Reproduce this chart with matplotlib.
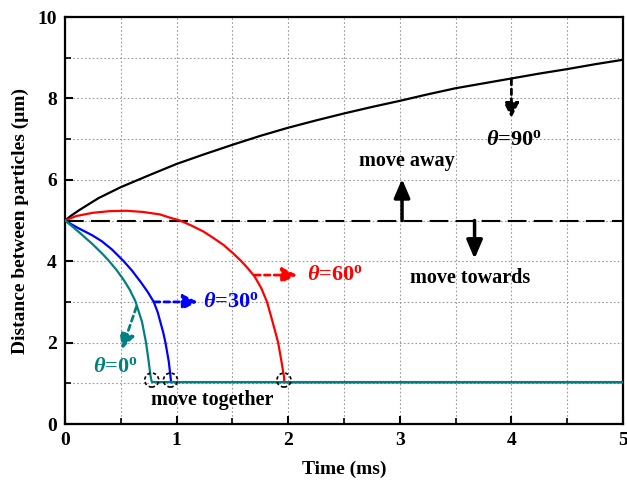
import matplotlib
matplotlib.use("Agg")
import matplotlib.pyplot as plt
from matplotlib.patches import Ellipse
from matplotlib.ticker import MultipleLocator

plt.rcParams['font.family'] = ['Liberation Serif', 'DejaVu Serif']
plt.rcParams['font.weight'] = 'bold'
plt.rcParams['mathtext.fontset'] = 'custom'
plt.rcParams['mathtext.it'] = 'Liberation Serif:italic:bold'
plt.rcParams['mathtext.rm'] = 'Liberation Serif:bold'
plt.rcParams['mathtext.bf'] = 'Liberation Serif:bold'

# ---- data ----
t90 = [0, 0.05, 0.13, 0.3, 0.5, 0.76, 1.0, 1.25, 1.5, 1.75, 2.0, 2.25, 2.5, 2.75,
       3.0, 3.25, 3.5, 3.75, 4.0, 4.25, 4.5, 4.75, 5.0]
d90 = [5, 5.11, 5.26, 5.55, 5.82, 6.12, 6.39, 6.63, 6.86, 7.08, 7.28, 7.46, 7.63, 7.79,
       7.94, 8.10, 8.25, 8.37, 8.49, 8.61, 8.72, 8.84, 8.95]

t60 = [0, 0.1, 0.25, 0.4, 0.55, 0.7, 0.85, 0.94, 1.03, 1.13, 1.24, 1.33, 1.42, 1.50,
       1.58, 1.64, 1.70, 1.76, 1.81, 1.86, 1.91, 1.94, 1.962, 1.966, 5.0]
d60 = [5, 5.11, 5.19, 5.23, 5.24, 5.21, 5.15, 5.07, 5.0, 4.88, 4.73, 4.57, 4.40, 4.21,
       4.0, 3.82, 3.62, 3.33, 3.0, 2.51, 2.0, 1.53, 1.16, 1.03, 1.03]

t30 = [0, 0.1, 0.242, 0.33, 0.42, 0.526, 0.60, 0.675, 0.74, 0.795, 0.83, 0.854, 0.88,
       0.90, 0.93, 0.947, 0.95, 5.0]
d30 = [5, 4.84, 4.64, 4.49, 4.29, 4.0, 3.77, 3.5, 3.25, 3.0, 2.75, 2.51, 2.25,
       2.0, 1.53, 1.12, 1.03, 1.03]

t0 = [0, 0.08, 0.152, 0.25, 0.332, 0.39, 0.46, 0.526, 0.58, 0.63, 0.69, 0.726, 0.75,
      0.765, 0.775, 0.78, 5.0]
d0 = [5, 4.82, 4.65, 4.41, 4.19, 4.02, 3.79, 3.54, 3.30, 3.02, 2.51, 2.0, 1.53,
      1.20, 1.06, 1.03, 1.03]

ref_t = [0, 5]
ref_d = [5, 5]

contact_t = [0.777, 0.945, 1.962]
contact_d = [1.08, 1.08, 1.08]

xticks = [0, 1, 2, 3, 4, 5]
yticks = [0, 2, 4, 6, 8, 10]

c90, c60, c30, c0 = 'black', '#ff0000', '#0000ff', '#008080'

fig = plt.figure(figsize=(6.27, 4.82), dpi=100)
ax = fig.add_axes([0.1037, 0.1203, 0.8899, 0.8444])

ax.plot(ref_t, ref_d, color='black', lw=1.5, ls=(0, (9, 3.5)), zorder=3)
ax.plot(t90, d90, color=c90, lw=1.6, zorder=4)
ax.plot(t60, d60, color=c60, lw=1.6, zorder=4)
ax.plot(t30, d30, color=c30, lw=1.6, zorder=4)
ax.plot(t0, d0, color=c0, lw=1.6, zorder=5)

for ct, cd in zip(contact_t, contact_d):
    e = Ellipse((ct, cd), width=14 / 111.6, height=14 / 40.7,
                fill=False, edgecolor='black', lw=1.2, ls=(0, (2, 1.5)), zorder=6)
    ax.add_patch(e)

ax.set_xlim(0, 5)
ax.set_ylim(0, 10)
ax.set_xticks(xticks)
ax.set_yticks(yticks)
ax.xaxis.set_minor_locator(MultipleLocator(0.5))
ax.yaxis.set_minor_locator(MultipleLocator(1))
ax.grid(True, which='both', color='#9a9a9a', ls=(0, (1.5, 2)), lw=0.8, zorder=0)
ax.set_axisbelow(True)
ax.tick_params(which='major', direction='in', length=6, width=1.5, labelsize=14, pad=6)
ax.tick_params(which='minor', direction='in', length=4, width=1.2)
for s in ax.spines.values():
    s.set_linewidth(1.6)
ax.set_xlabel('Time (ms)', fontsize=14, fontweight='bold', labelpad=8)
ax.set_ylabel('Distance between particles (\u03bcm)', fontsize=14, fontweight='bold', labelpad=6)

# labels
lab_kw = dict(fontsize=16, fontweight='bold', ha='center', va='center', zorder=7)
ax.text(4.02, 6.98, r'$\theta$=90$^{\rm o}$', color=c90, **lab_kw)
ax.text(2.42, 3.66, r'$\theta$=60$^{\rm o}$', color=c60, **lab_kw)
ax.text(1.49, 3.0, r'$\theta$=30$^{\rm o}$', color=c30, **lab_kw)
ax.text(0.45, 1.41, r'$\theta$=0$^{\rm o}$', color=c0, **lab_kw)
ax.text(3.06, 6.47, 'move away', fontsize=14.5, fontweight='bold', ha='center', va='center')
ax.text(3.63, 3.59, 'move towards', fontsize=14.5, fontweight='bold', ha='center', va='center')
ax.text(1.32, 0.59, 'move together', fontsize=14.5, fontweight='bold', ha='center', va='center')

# dashed arrows
def darrow(xy0, xy1, col):
    ax.annotate('', xy=xy1, xytext=xy0,
                arrowprops=dict(arrowstyle='-|>,head_length=0.6,head_width=0.3',
                                color=col, lw=2, ls=(0, (2, 1.5)),
                                shrinkA=0, shrinkB=0, mutation_scale=15), zorder=7)

darrow((4.0, 8.47), (4.0, 7.52), c90)
darrow((1.70, 3.66), (2.08, 3.66), c60)
darrow((0.80, 3.0), (1.19, 3.0), c30)
darrow((0.64, 2.88), (0.51, 1.84), c0)

# solid arrows
def sarrow(xy0, xy1):
    ax.annotate('', xy=xy1, xytext=xy0,
                arrowprops=dict(arrowstyle='-|>,head_length=0.7,head_width=0.3',
                                color='black', lw=2.5,
                                shrinkA=0, shrinkB=0, mutation_scale=16), zorder=7)

sarrow((3.02, 5.0), (3.02, 6.02))
sarrow((3.67, 5.0), (3.67, 4.06))

fig.savefig('out.png', dpi=100)
